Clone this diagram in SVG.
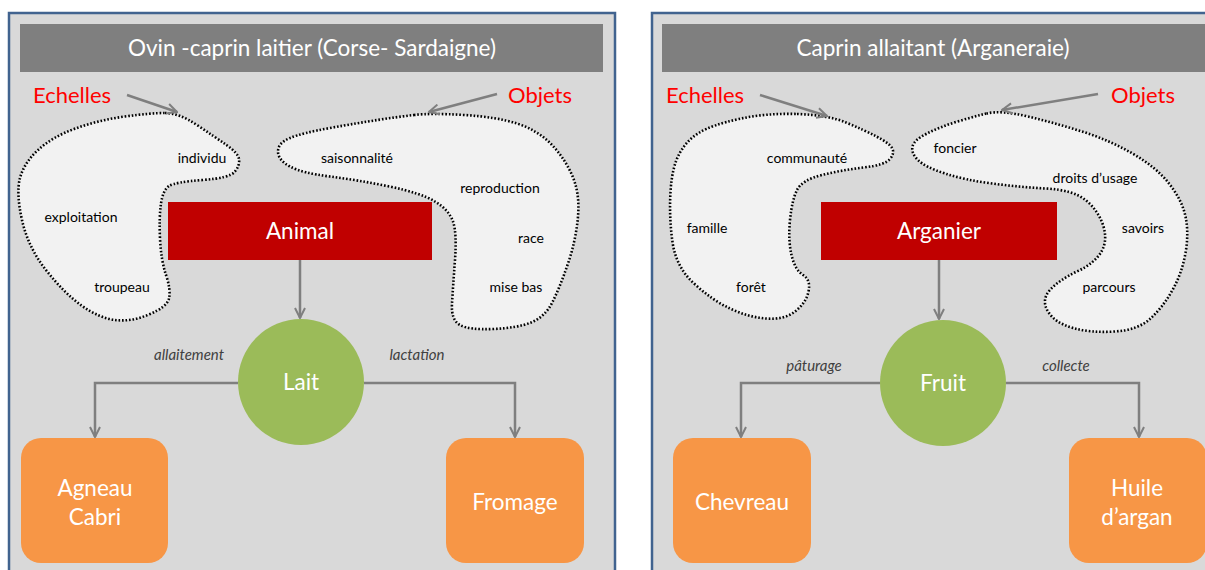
<svg xmlns="http://www.w3.org/2000/svg" width="1205" height="570" viewBox="0 0 1205 570">
<defs>
<style>
.panel{fill:#D9D9D9;stroke:#41638F;stroke-width:2.5}
.hdr{fill:#7F7F7F}
.hdrt{font-family:Lato,"Open Sans",sans-serif;font-size:22.5px;fill:#FFFFFF;text-anchor:middle}
.red{font-family:Lato,"Open Sans",sans-serif;font-size:22px;fill:#FF0000}
.blob{fill:#F2F2F2;stroke:#000;stroke-width:2.6;stroke-dasharray:1.6 1.9}
.bt{font-family:Lato,"Open Sans",sans-serif;font-size:14px;fill:#000;text-anchor:middle}
.main{fill:#C00000}
.circ{fill:#9BBB59}
.prod{fill:#F79646}
.wt{font-family:Lato,"Open Sans",sans-serif;font-size:22.5px;fill:#FFFFFF;text-anchor:middle}
.lbl{font-family:Lato,"Open Sans",sans-serif;font-size:15px;font-style:italic;fill:#404040;text-anchor:middle}
.con{fill:none;stroke:#7F7F7F;stroke-width:2.5}
</style>
<marker id="ah" viewBox="0 0 12 12" refX="11" refY="6" markerWidth="12" markerHeight="12" markerUnits="userSpaceOnUse" orient="auto">
<path d="M1,1 L11,6 L1,11" fill="none" stroke="#7F7F7F" stroke-width="2"/>
</marker>
</defs>

<g id="panel-left">
<rect class="panel" x="9" y="13" width="606" height="570"/>
<rect class="hdr" x="20" y="24" width="583" height="48"/>
<text class="hdrt" x="312" y="56">Ovin -caprin laitier (Corse- Sardaigne)</text>
<text class="red" x="33" y="103">Echelles</text>
<text class="red" x="508" y="103">Objets</text>
</g>

<g id="blob-echelles-left">
<path class="blob" d="M165,113 Q179,113 197,125 Q215,137 226.5,145 Q238,153 239,159 Q240,165 235,171.5 Q230,178 202.5,180 Q175,182 169,186 Q163,190 161,203.5 Q159,217 160,238.5 Q161,260 166,275 Q171,290 169,298.5 Q167,307 149,314.5 Q131,322 115,320 Q99,318 81.5,305.5 Q64,293 46,270 Q28,247 22,220 Q16,193 20,178 Q24,163 38,150 Q52,137 75.5,128.5 Q99,120 125,116.5 Q151,113 165,113 Z"/>
<text class="bt" x="202" y="163">individu</text>
<text class="bt" x="81" y="222">exploitation</text>
<text class="bt" x="122" y="292">troupeau</text>
</g>

<g id="blob-objets-left">
<path class="blob" d="M414,115 Q431,113 464,115 Q497,117 517,123.5 Q537,130 550.5,143.5 Q564,157 572,175 Q580,193 578,216.5 Q576,240 568,263.5 Q560,287 552.5,302 Q545,317 531,322.5 Q517,328 493,329 Q469,330 460,325 Q451,320 452,303.5 Q453,287 455,260 Q457,233 453,221.5 Q449,210 435,201.5 Q421,193 389.5,186.5 Q358,180 330,176.5 Q302,173 290,166.5 Q278,160 278,151.5 Q278,143 290,138 Q302,133 330,128 Q358,123 377.5,120 Q397,117 414,115 Z"/>
<text class="bt" x="357" y="163">saisonnalité</text>
<text class="bt" x="500" y="193">reproduction</text>
<text class="bt" x="531" y="243">race</text>
<text class="bt" x="516" y="292">mise bas</text>
</g>

<g id="node-animal">
<rect class="main" x="168" y="202" width="264" height="58"/>
<text class="wt" x="300" y="239">Animal</text>
</g>
<g id="node-lait">
<ellipse class="circ" cx="301" cy="382" rx="63" ry="63"/>
<text class="wt" x="301" y="390">Lait</text>
</g>
<g id="node-agneau">
<rect class="prod" x="21" y="438" width="147" height="125" rx="20"/>
<text class="wt" x="95" y="496">Agneau</text>
<text class="wt" x="95" y="525">Cabri</text>
</g>
<g id="node-fromage">
<rect class="prod" x="446" y="438" width="138" height="125" rx="20"/>
<text class="wt" x="515" y="510">Fromage</text>
</g>

<g id="panel-right">
<rect class="panel" x="652" y="13" width="570" height="570"/>
<rect class="hdr" x="662" y="24" width="560" height="48"/>
<text class="hdrt" x="933" y="56">Caprin allaitant (Arganeraie)</text>
<text class="red" x="666" y="103">Echelles</text>
<text class="red" x="1111" y="103">Objets</text>
</g>

<g id="blob-echelles-right">
<path class="blob" d="M797,114 Q828,115 846,122.5 Q864,130 876.5,136.5 Q889,143 892,148 Q895,153 890,159 Q885,165 863.5,167.5 Q842,170 822,175 Q802,180 797,190 Q792,200 790,220 Q788,240 791.5,255 Q795,270 803,275 Q811,280 808.5,291.5 Q806,303 795,311.5 Q784,320 766,318.5 Q748,317 730,308.5 Q712,300 694,283.5 Q676,267 672.5,242 Q669,217 670.5,192 Q672,167 679.5,153.5 Q687,140 699.5,132.5 Q712,125 739,119 Q766,113 797,114 Z"/>
<text class="bt" x="807" y="163">communauté</text>
<text class="bt" x="707" y="233">famille</text>
<text class="bt" x="751" y="292">forêt</text>
</g>

<g id="blob-objets-right">
<path class="blob" d="M986.5,113.5 Q1001,110 1028,116.5 Q1055,123 1082,131.5 Q1109,140 1132.5,153.5 Q1156,167 1169,183.5 Q1182,200 1185.5,216.5 Q1189,233 1185.5,253 Q1182,273 1172.5,290 Q1163,307 1150.5,318.5 Q1138,330 1114.5,331.5 Q1091,333 1073,328 Q1055,323 1048,311.5 Q1041,300 1050,290 Q1059,280 1077,271.5 Q1095,263 1101.5,251.5 Q1108,240 1103,225 Q1098,210 1085.5,200 Q1073,190 1046,188.5 Q1019,187 992,183.5 Q965,180 945,173.5 Q925,167 918,160 Q911,153 912.5,146.5 Q914,140 927,133.5 Q940,127 956,122 Q972,117 986.5,113.5 Z"/>
<text class="bt" x="955" y="153">foncier</text>
<text class="bt" x="1095" y="183">droits d’usage</text>
<text class="bt" x="1143" y="233">savoirs</text>
<text class="bt" x="1109" y="292">parcours</text>
</g>

<g id="node-arganier">
<rect class="main" x="821" y="202" width="236" height="58"/>
<text class="wt" x="939" y="239">Arganier</text>
</g>
<g id="node-fruit">
<ellipse class="circ" cx="943" cy="383" rx="63" ry="63"/>
<text class="wt" x="943" y="391">Fruit</text>
</g>
<g id="node-chevreau">
<rect class="prod" x="673" y="438" width="138" height="125" rx="20"/>
<text class="wt" x="742" y="510">Chevreau</text>
</g>
<g id="node-huile">
<rect class="prod" x="1069" y="438" width="138" height="125" rx="20"/>
<text class="wt" x="1137" y="496">Huile</text>
<text class="wt" x="1137" y="525">d’argan</text>
</g>

<g id="connectors">
<line class="con" x1="127" y1="95" x2="177" y2="112" marker-end="url(#ah)"/>
<line class="con" x1="497" y1="94" x2="429" y2="112" marker-end="url(#ah)"/>
<line class="con" x1="300" y1="260" x2="300" y2="318" marker-end="url(#ah)"/>
<polyline class="con" points="238,383 95,383 95,437" marker-end="url(#ah)"/>
<polyline class="con" points="364,383 515,383 515,437" marker-end="url(#ah)"/>
<text class="lbl" x="189" y="360">allaitement</text>
<text class="lbl" x="417" y="360">lactation</text>
<line class="con" x1="760" y1="95" x2="827" y2="116" marker-end="url(#ah)"/>
<line class="con" x1="1098" y1="94" x2="1002" y2="110" marker-end="url(#ah)"/>
<line class="con" x1="939" y1="260" x2="939" y2="319" marker-end="url(#ah)"/>
<polyline class="con" points="880,383 741,383 741,437" marker-end="url(#ah)"/>
<polyline class="con" points="1006,383 1139,383 1139,437" marker-end="url(#ah)"/>
<text class="lbl" x="814" y="371">pâturage</text>
<text class="lbl" x="1066" y="371">collecte</text>
</g>
</svg>
